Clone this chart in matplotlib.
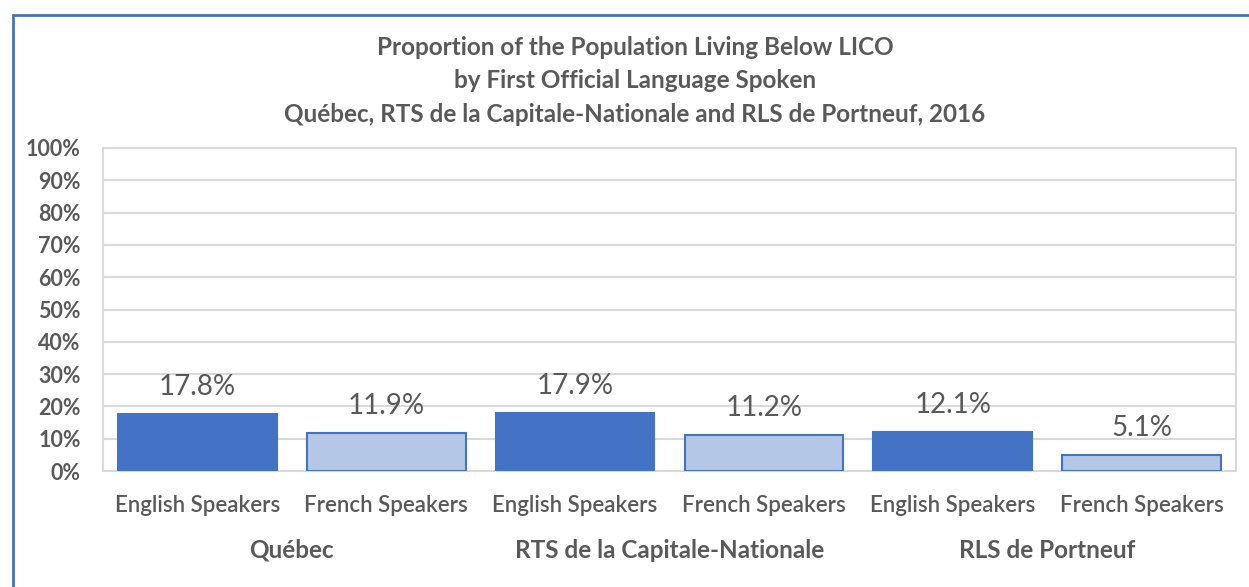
import numpy as np
import matplotlib.pyplot as plt
from matplotlib.patches import Rectangle

regions = ['Québec', 'RTS de la Capitale-Nationale', 'RLS de Portneuf']
speakers = ['English Speakers', 'French Speakers']
values = [17.8, 11.9, 17.9, 11.2, 12.1, 5.1]
title = ('Proportion of the Population Living Below LICO\n'
         'by First Official Language Spoken\n'
         'Québec, RTS de la Capitale-Nationale and RLS de Portneuf, 2016')

TXT = '#595959'
DARK = '#4472C4'
LIGHT = '#B4C7E7'

plt.rcParams['font.family'] = ['Lato', 'DejaVu Sans']

W, H = 1249, 587
fig = plt.figure(figsize=(W / 100, H / 100), dpi=100)

# outer chart border (only top and left visible in the reference)
fig.add_artist(Rectangle((13 / W, -0.1), 1.2, 1 - 15 / H + 0.1,
                         transform=fig.transFigure, fill=False,
                         edgecolor=DARK, linewidth=2))

ax = fig.add_axes([103 / W, 1 - 471 / H, (1236 - 103) / W, (471 - 148) / H])

x = np.arange(len(values))
colors = [DARK if i % 2 == 0 else LIGHT for i in range(len(values))]
ax.bar(x, values, width=0.84, color=colors, edgecolor=DARK, linewidth=1.5, zorder=3)

for xi, v in zip(x, values):
    ax.annotate(f'{v:.1f}%', (xi, v), xytext=(0, 10), textcoords='offset points',
                ha='center', va='bottom', fontsize=20, color=TXT, zorder=4)

ax.set_xlim(-0.5, len(values) - 0.5)
ax.set_ylim(0, 100)
ax.set_yticks(np.arange(0, 101, 10))
ax.set_yticklabels([f'{t}%' for t in range(0, 101, 10)],
                   fontsize=15.5, fontweight='bold', color=TXT)
ax.set_xticks(x)
ax.set_xticklabels([speakers[i % 2] for i in range(len(values))],
                   fontsize=16, color=TXT, fontweight='semibold')
ax.tick_params(axis='both', length=0)
ax.tick_params(axis='x', pad=17)
ax.tick_params(axis='y', pad=16)
ax.grid(axis='y', color='#D9D9D9', linewidth=1.5, zorder=0)
for s in ax.spines.values():
    s.set_color('#D9D9D9')
    s.set_linewidth(1.5)

for i, r in enumerate(regions):
    ax.text(2 * i + 0.5, -(550 - 471) / 323, r, transform=ax.get_xaxis_transform(),
            ha='center', va='center', fontsize=17.5, fontweight='bold', color=TXT)

fig.text(635 / W, 1 - 81 / H, title, ha='center', va='center',
         fontsize=17.5, fontweight='bold', color=TXT, linespacing=1.55)

fig.savefig('out.png', dpi=100)
